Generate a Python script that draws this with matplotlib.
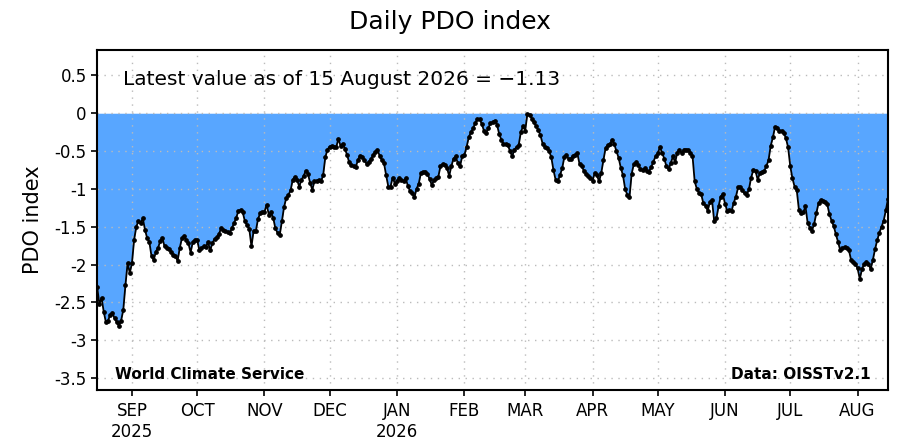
import numpy as np
import pandas as pd
import matplotlib
matplotlib.use("Agg")
import matplotlib.pyplot as plt

start_date = "2025-08-16"
pdo_values = [
    -2.30, -2.52, -2.44, -2.62, -2.76, -2.74, -2.66, -2.64, -2.71, -2.76,
    -2.81, -2.74, -2.60, -2.27, -1.98, -2.11, -1.98, -1.67, -1.50, -1.42,
    -1.45, -1.39, -1.54, -1.65, -1.70, -1.89, -1.94, -1.83, -1.78, -1.69,
    -1.65, -1.76, -1.78, -1.80, -1.83, -1.87, -1.89, -1.95, -1.78, -1.65,
    -1.62, -1.68, -1.72, -1.84, -1.70, -1.67, -1.67, -1.81, -1.78, -1.76,
    -1.77, -1.70, -1.81, -1.72, -1.66, -1.64, -1.60, -1.52, -1.54, -1.56,
    -1.57, -1.58, -1.52, -1.45, -1.38, -1.29, -1.28, -1.31, -1.43, -1.48,
    -1.53, -1.76, -1.55, -1.56, -1.40, -1.32, -1.31, -1.30, -1.21, -1.34,
    -1.31, -1.38, -1.52, -1.58, -1.61, -1.43, -1.24, -1.12, -1.08, -1.02,
    -0.88, -0.84, -0.88, -0.97, -0.88, -0.83, -0.76, -0.80, -0.92, -1.01,
    -0.90, -0.89, -0.88, -0.90, -0.82, -0.58, -0.48, -0.44, -0.43, -0.44,
    -0.45, -0.34, -0.43, -0.40, -0.47, -0.55, -0.65, -0.69, -0.70, -0.71,
    -0.62, -0.56, -0.58, -0.62, -0.67, -0.64, -0.61, -0.55, -0.51, -0.49,
    -0.56, -0.62, -0.66, -0.82, -0.97, -0.97, -0.85, -0.93, -0.90, -0.85,
    -0.88, -0.90, -0.86, -0.96, -1.03, -1.06, -1.11, -1.00, -0.93, -0.79,
    -0.78, -0.77, -0.80, -0.87, -0.95, -0.88, -0.86, -0.84, -0.70, -0.67,
    -0.68, -0.72, -0.83, -0.70, -0.60, -0.57, -0.66, -0.70, -0.57, -0.55,
    -0.45, -0.32, -0.25, -0.20, -0.13, -0.08, -0.08, -0.14, -0.23, -0.26,
    -0.20, -0.13, -0.12, -0.10, -0.15, -0.27, -0.35, -0.40, -0.41, -0.42,
    -0.50, -0.57, -0.48, -0.45, -0.42, -0.25, -0.17, -0.23, -0.01, -0.02,
    -0.07, -0.12, -0.17, -0.22, -0.29, -0.40, -0.44, -0.46, -0.50, -0.58,
    -0.75, -0.88, -0.90, -0.82, -0.73, -0.58, -0.55, -0.61, -0.60, -0.56,
    -0.55, -0.53, -0.67, -0.70, -0.76, -0.80, -0.83, -0.85, -0.89, -0.79,
    -0.82, -0.90, -0.79, -0.62, -0.46, -0.42, -0.41, -0.35, -0.41, -0.50,
    -0.59, -0.72, -0.82, -1.00, -1.08, -1.11, -0.80, -0.67, -0.65, -0.68,
    -0.74, -0.75, -0.73, -0.76, -0.77, -0.71, -0.64, -0.57, -0.53, -0.45,
    -0.52, -0.60, -0.70, -0.74, -0.66, -0.57, -0.65, -0.52, -0.48, -0.53,
    -0.48, -0.48, -0.49, -0.52, -0.56, -0.90, -1.00, -1.05, -1.07, -1.19,
    -1.22, -1.29, -1.17, -1.15, -1.43, -1.39, -1.23, -1.10, -1.07, -1.20,
    -1.29, -1.28, -1.29, -1.18, -1.10, -0.98, -0.97, -1.02, -1.06, -1.08,
    -1.00, -0.85, -0.75, -0.76, -0.88, -0.79, -0.78, -0.76, -0.70, -0.62,
    -0.43, -0.32, -0.18, -0.19, -0.23, -0.23, -0.26, -0.33, -0.45, -0.70,
    -0.86, -0.97, -1.02, -1.28, -1.32, -1.31, -1.23, -1.45, -1.51, -1.55,
    -1.46, -1.32, -1.19, -1.15, -1.16, -1.17, -1.20, -1.33, -1.42, -1.49,
    -1.60, -1.70, -1.81, -1.78, -1.77, -1.78, -1.81, -1.94, -1.97, -1.99,
    -2.05, -2.19, -2.06, -1.99, -1.96, -1.99, -2.06, -1.94, -1.80, -1.68,
    -1.58, -1.50, -1.42, -1.28, -1.13,
]
y_ticks = [-3.5, -3.0, -2.5, -2.0, -1.5, -1.0, -0.5, 0.0, 0.5]
y_tick_labels = ["-3.5", "-3", "-2.5", "-2", "-1.5", "-1", "-0.5", "0", "0.5"]
month_labels = ["SEP\n2025", "OCT", "NOV", "DEC", "JAN\n2026", "FEB", "MAR",
                "APR", "MAY", "JUN", "JUL", "AUG"]
title = "Daily PDO index"
latest_text = "Latest value as of 15 August 2026 = \u22121.13"

dates = pd.date_range(start_date, periods=len(pdo_values), freq="D")
vals = np.array(pdo_values)

plt.rcParams['font.family'] = ['DejaVu Sans']
fig = plt.figure(figsize=(9, 4.48), dpi=100)
ax = fig.add_axes([0.108, 0.1305, 0.8787, 0.757])

ax.fill_between(dates, vals, 0, color="#58a6ff", linewidth=0, zorder=1)
ax.plot(dates, vals, color="black", linewidth=1.3, marker="o",
        markersize=2.4, zorder=3)

ax.set_xlim(dates[0], dates[-1])
ax.set_ylim(-3.65, 0.83)
ax.set_yticks(y_ticks)
ax.set_yticklabels(y_tick_labels, fontsize=12)

month_starts = pd.date_range("2025-09-01", "2026-08-01", freq="MS")
ax.set_xticks(month_starts)
ax.set_xticklabels(month_labels, fontsize=12, linespacing=1.2)

ax.set_axisbelow(False)
ax.grid(True, color="#bbbbbb", linestyle=(0, (1, 4)), linewidth=1.0, zorder=2)
for gl in ax.get_xgridlines() + ax.get_ygridlines():
    gl.set_zorder(2)

for s in ax.spines.values():
    s.set_linewidth(1.5)
    s.set_zorder(4)
ax.tick_params(axis="both", direction="out", length=4, width=1.2)
ax.tick_params(axis="x", pad=5)

ax.set_ylabel("PDO index", fontsize=15, labelpad=8)
fig.suptitle(title, fontsize=18, y=0.978)

ax.text(0.033, 0.915, latest_text, transform=ax.transAxes, fontsize=14.5,
        ha="left", va="center")
ax.text(0.022, 0.045, "World Climate Service", transform=ax.transAxes,
        fontsize=11, fontweight="bold", ha="left", va="center", zorder=5)
ax.text(0.978, 0.045, "Data: OISSTv2.1", transform=ax.transAxes,
        fontsize=11, fontweight="bold", ha="right", va="center", zorder=5)

fig.savefig("out.png", dpi=100)
